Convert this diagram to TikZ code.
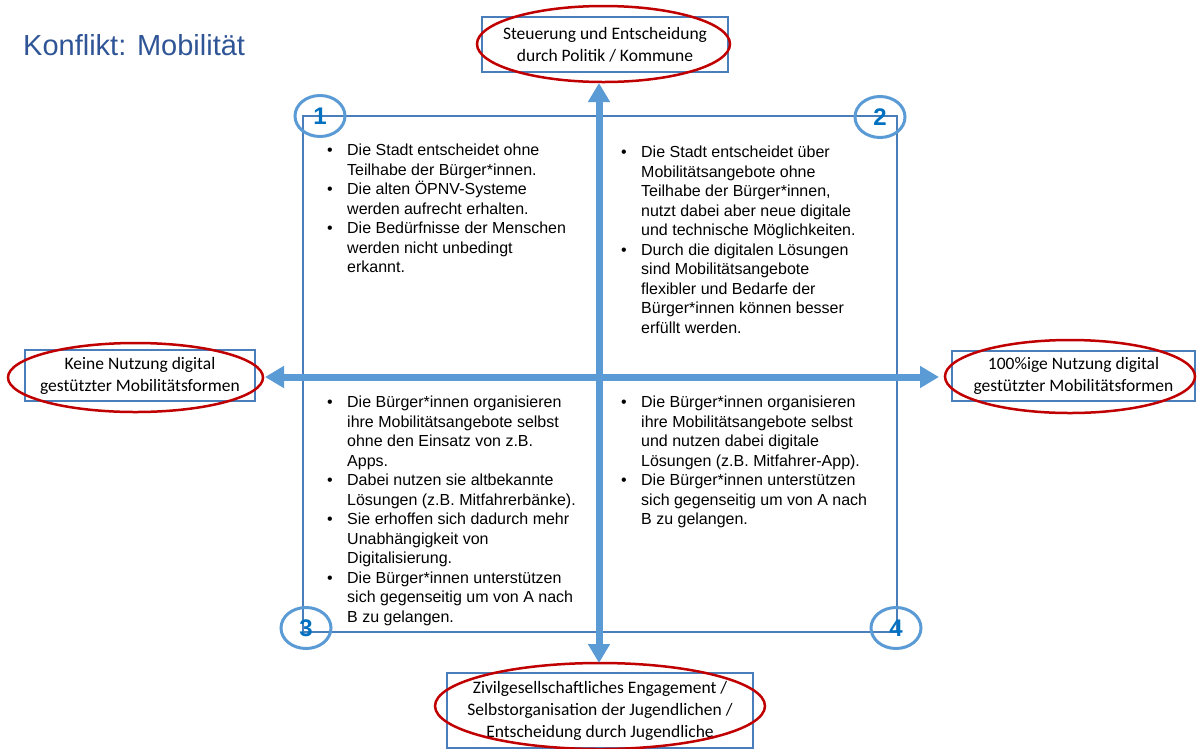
\documentclass[tikz,border=0pt]{standalone}
\usepackage{fontspec}
\setmainfont{Liberation Sans}
\newfontfamily\boxfont{Carlito}
\usetikzlibrary{arrows.meta,shapes.geometric}

\definecolor{axisblue}{HTML}{5B9BD5}
\definecolor{frameblue}{HTML}{4A7EBB}
\definecolor{ringred}{HTML}{C00000}
\definecolor{numblue}{HTML}{0070C0}
\definecolor{titleblue}{HTML}{2F5597}

% bullet with hanging indent for the quadrant lists
\newcommand{\bl}{\makebox[20pt][l]{\textbullet}}
\newcommand{\ind}{\hspace*{20pt}}

\tikzset{
  axis/.style={draw=axisblue, line width=7pt,
    {Triangle[length=19pt,width=21pt]}-{Triangle[length=19pt,width=21pt]}},
  quadframe/.style={draw=frameblue, line width=1.2pt, inner sep=0},
  polebox/.style={draw=frameblue, line width=1.2pt, inner sep=0, align=center,
    font=\boxfont\fontsize{17.5}{22}\selectfont},
  ring/.style={draw=ringred, line width=2.5pt, ellipse, inner sep=0},
  quadnum/.style={draw=axisblue, line width=3pt, ellipse, inner sep=0,
    minimum width=50pt, minimum height=41pt, text=numblue,
    font=\fontsize{24}{28}\selectfont\bfseries},
  quadtext/.style={anchor=north west, inner sep=0, align=left,
    font=\fontsize{16}{19.5}\selectfont},
}

\begin{document}
\begin{tikzpicture}[x=1pt,y=-1pt]
\useasboundingbox (0,0) rectangle (1197,748);

% title
\node[anchor=base west, inner sep=0, text=titleblue,
      font=\fontsize{29}{34}\selectfont] (title) at (23,55) {Konflikt: Mobilität};

% quadrant frame
\node[quadframe, minimum width=594pt, minimum height=516pt] (frame) at (600,374) {};

% pole boxes
\node[polebox, minimum width=246pt, minimum height=55pt] (top) at (605,44.5)
  {Steuerung und Entscheidung\\durch Politik / Kommune};
\node[polebox, minimum width=230pt, minimum height=51pt] (left) at (140,375.5)
  {Keine Nutzung digital\\gestützter Mobilitätsformen};
\node[polebox, minimum width=243pt, minimum height=50pt] (right) at (1073.5,376)
  {100\%ige Nutzung digital\\gestützter Mobilitätsformen};
\node[polebox, minimum width=306pt, minimum height=75pt] (bottom) at (600,710.5)
  {Zivilgesellschaftliches Engagement /\\Selbstorganisation der Jugendlichen /\\Entscheidung durch Jugendliche};

% red rings around the poles
\node[ring, minimum width=253pt, minimum height=76pt] (topring) at (603.5,44) {};
\node[ring, minimum width=255pt, minimum height=69pt] (leftring) at (135.5,377.5) {};
\node[ring, minimum width=250pt, minimum height=73pt] (rightring) at (1070,376.5) {};
\node[ring, minimum width=330pt, minimum height=86pt] (bottomring) at (600,706) {};

% axes
\coordinate (ntip) at (599,83);
\coordinate (stip) at (599,663);
\coordinate (wtip) at (265,377);
\coordinate (etip) at (939,377);
\draw[axis] (stip) -- (ntip);
\draw[axis] (wtip) -- (etip);

% quadrant numbers
\node[quadnum] (n1) at (320,116) {1};
\node[quadnum] (n2) at (880,117) {2};
\node[quadnum] (n3) at (306,628) {3};
\node[quadnum] (n4) at (896,628) {4};

% quadrant texts
\node[quadtext] (t1) at (327,144) {%
\bl Die Stadt entscheidet ohne\\
\ind Teilhabe der Bürger*innen.\\
\bl Die alten ÖPNV-Systeme\\
\ind werden aufrecht erhalten.\\
\bl Die Bedürfnisse der Menschen\\
\ind werden nicht unbedingt\\
\ind erkannt.};

\node[quadtext] (t2) at (621,146) {%
\bl Die Stadt entscheidet über\\
\ind Mobilitätsangebote ohne\\
\ind Teilhabe der Bürger*innen,\\
\ind nutzt dabei aber neue digitale\\
\ind und technische Möglichkeiten.\\
\bl Durch die digitalen Lösungen\\
\ind sind Mobilitätsangebote\\
\ind flexibler und Bedarfe der\\
\ind Bürger*innen können besser\\
\ind erfüllt werden.};

\node[quadtext] (t3) at (327,396) {%
\bl Die Bürger*innen organisieren\\
\ind ihre Mobilitätsangebote selbst\\
\ind ohne den Einsatz von z.B.\\
\ind Apps.\\
\bl Dabei nutzen sie altbekannte\\
\ind Lösungen (z.B. Mitfahrerbänke).\\
\bl Sie erhoffen sich dadurch mehr\\
\ind Unabhängigkeit von\\
\ind Digitalisierung.\\
\bl Die Bürger*innen unterstützen\\
\ind sich gegenseitig um von A nach\\
\ind B zu gelangen.};

\node[quadtext] (t4) at (621,396) {%
\bl Die Bürger*innen organisieren\\
\ind ihre Mobilitätsangebote selbst\\
\ind und nutzen dabei digitale\\
\ind Lösungen (z.B. Mitfahrer-App).\\
\bl Die Bürger*innen unterstützen\\
\ind sich gegenseitig um von A nach\\
\ind B zu gelangen.};
\end{tikzpicture}
\end{document}
